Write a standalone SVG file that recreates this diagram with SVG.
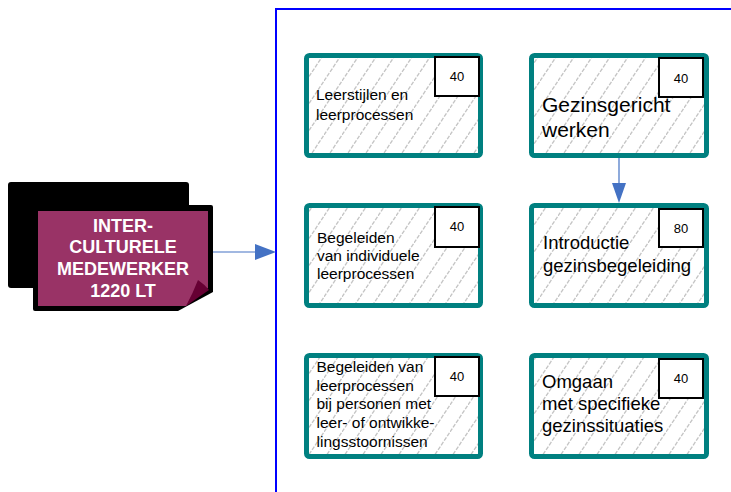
<svg xmlns="http://www.w3.org/2000/svg" width="731" height="492" viewBox="0 0 731 492">
<defs>
<pattern id="hatch" patternUnits="userSpaceOnUse" width="18" height="27">
<rect width="18" height="27" fill="#ffffff"/>
<line x1="0" y1="27" x2="18" y2="0" stroke="#c4c4c4" stroke-width="1.3" stroke-dasharray="4,1.5"/>
</pattern>
<style>
.box{fill:url(#hatch);stroke:#008080;stroke-width:5}
.num{fill:#ffffff;stroke:#000000;stroke-width:2}
.t{font-family:"Liberation Sans",Arial,sans-serif;fill:#000000}
.s{font-size:15.5px}
.l{font-size:18.5px}
.n{font-size:13px;text-anchor:middle}
.w{font-family:"Liberation Sans",Arial,sans-serif;font-weight:bold;font-size:18px;fill:#ffffff;text-anchor:middle}
.c{fill:none;stroke:#4472c4;stroke-width:1.2}
.ah{fill:#4472c4}
</style>
</defs>
<rect width="731" height="492" fill="#ffffff"/>

<g id="container">
<path d="M276,492 V9 H740" fill="none" stroke="#0000ff" stroke-width="2"/>
</g>

<g id="intercultureel">
<rect x="8" y="182" width="181" height="106" rx="3" fill="#000000"/>
<path d="M35,205 H211 Q213,205 213,207 V292 L178,311 H35 Q33,311 33,309 V207 Q33,205 35,205 Z" fill="#000000"/>
<path d="M38,211 H208 V288 L186,306 H38 Z" fill="#993366"/>
<path d="M186,306 Q193,293 198,280 Q204,284 209,290 Z" fill="#660033"/>
<text class="w" x="123" y="231.5">INTER-</text>
<text class="w" x="123" y="253">CULTURELE</text>
<text class="w" x="123" y="275">MEDEWERKER</text>
<text class="w" x="123" y="297">1220 LT</text>
</g>

<g id="leerstijlen">
<rect class="box" x="306.5" y="55.5" width="174" height="100" rx="3"/>
<rect class="num" x="435" y="57" width="44" height="39"/>
<text class="t n" x="457" y="81">40</text>
<text class="t s" x="316" y="100">Leerstijlen en</text>
<text class="t s" x="316" y="119.5">leerprocessen</text>
</g>

<g id="gezinsgericht">
<rect class="box" x="531.5" y="55.5" width="175" height="100" rx="3"/>
<rect class="num" x="659" y="58" width="44" height="39"/>
<text class="t n" x="681" y="82.5">40</text>
<text class="t" x="542" y="112" font-size="21px">Gezinsgericht</text>
<text class="t" x="542" y="137" font-size="21px">werken</text>
</g>

<g id="begeleiden-individueel">
<rect class="box" x="306.5" y="205.5" width="174" height="100" rx="3"/>
<rect class="num" x="435" y="207" width="44" height="40"/>
<text class="t n" x="457" y="231">40</text>
<text class="t s" x="317" y="243">Begeleiden</text>
<text class="t s" x="317" y="261">van individuele</text>
<text class="t s" x="317" y="279">leerprocessen</text>
</g>

<g id="introductie">
<rect class="box" x="531.5" y="205.5" width="175" height="100" rx="3"/>
<rect class="num" x="659" y="209" width="44" height="38"/>
<text class="t n" x="681" y="233">80</text>
<text class="t l" x="543" y="249">Introductie</text>
<text class="t l" x="543" y="272">gezinsbegeleiding</text>
</g>

<g id="begeleiden-stoornissen">
<rect class="box" x="306.5" y="355.5" width="174" height="101" rx="3"/>
<rect class="num" x="435" y="357" width="44" height="39"/>
<text class="t n" x="457" y="381">40</text>
<text class="t s" x="316.5" y="372">Begeleiden van</text>
<text class="t s" x="316.5" y="390.5">leerprocessen</text>
<text class="t s" x="316.5" y="409">bij personen met</text>
<text class="t s" x="316.5" y="428">leer- of ontwikke-</text>
<text class="t s" x="316.5" y="447">lingsstoornissen</text>
</g>

<g id="omgaan">
<rect class="box" x="531.5" y="355.5" width="175" height="101" rx="3"/>
<rect class="num" x="659" y="359" width="44" height="39"/>
<text class="t n" x="681" y="383">40</text>
<text class="t l" x="542" y="388">Omgaan</text>
<text class="t l" x="542" y="410">met specifieke</text>
<text class="t l" x="542" y="432">gezinssituaties</text>
</g>

<g id="connectors">
<path class="c" d="M213,252 H259"/>
<path class="ah" d="M255,244 L276,252 L255,260 Z"/>
<path class="c" d="M619,158 V186"/>
<path class="ah" d="M612,183 L619,203 L626,183 Z"/>
</g>
</svg>
